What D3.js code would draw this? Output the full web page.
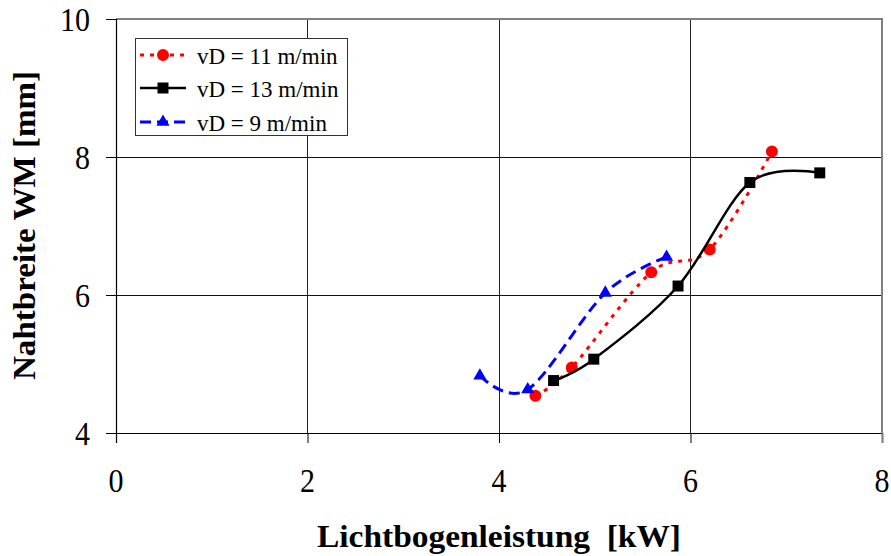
<!DOCTYPE html>
<html>
<head>
<meta charset="utf-8">
<script src="https://cdn.jsdelivr.net/npm/d3@7"></script>
<style>
  html, body { margin: 0; padding: 0; background: #fff; }
  svg { display: block; }
</style>
</head>
<body>
<div id="chart"></div>
<script>
// ---- data ----
const xTicks = [0, 2, 4, 6, 8];
const yTicks = [4, 6, 8, 10];
const seriesNames = ["vD = 11 m/min", "vD = 13 m/min", "vD = 9 m/min"];
const red11X = [4.38, 4.76, 5.59, 6.20, 6.85];
const red11Y = [4.54, 4.95, 6.33, 6.66, 8.08];
const black13X = [4.57, 4.99, 5.87, 6.62, 7.35];
const black13Y = [4.76, 5.07, 6.13, 7.63, 7.77];
const blue9X = [3.80, 4.30, 5.11, 5.75];
const blue9Y = [4.83, 4.63, 6.03, 6.55];
const xLabel = "Lichtbogenleistung  [kW]";
const yLabel = "Nahtbreite WM [mm]";

// ---- layout ----
const W = 891, H = 556;
const FONT = "'Liberation Serif', 'Times New Roman', Times, 'DejaVu Serif', serif";
const m = { left: 116, right: 891 - 882, top: 19, bottom: 556 - 433 };
const x = d3.scaleLinear().domain([0, 8]).range([m.left, W - m.right]);
const y = d3.scaleLinear().domain([4, 10]).range([H - m.bottom, m.top]);

const svg = d3.select("#chart").append("svg").attr("width", W).attr("height", H)
  .style("font-family", FONT);

// gridlines
const grid = svg.append("g");
grid.selectAll("line.gx").data(xTicks.filter(d => d > 0 && d < 8)).join("line")
  .attr("x1", d => x(d)).attr("x2", d => x(d)).attr("y1", y(10)).attr("y2", y(4))
  .attr("stroke", "#222").attr("stroke-width", 1).attr("shape-rendering", "crispEdges");
grid.selectAll("line.gy").data(yTicks.filter(d => d > 4 && d < 10)).join("line")
  .attr("x1", x(0)).attr("x2", x(8)).attr("y1", d => y(d)).attr("y2", d => y(d))
  .attr("stroke", "#111").attr("stroke-width", 1).attr("shape-rendering", "crispEdges");

// plot border (top & right gray)
svg.append("path")
  .attr("d", `M${x(0)},${y(10)} H${x(8)} V${y(4)}`)
  .attr("fill", "none").attr("stroke", "#808080").attr("stroke-width", 2);

// axes
const xAxis = svg.append("g").attr("transform", `translate(0,${y(4)})`)
  .call(d3.axisBottom(x).tickValues(xTicks).tickSize(10).tickFormat(""));
const yAxis = svg.append("g").attr("transform", `translate(${x(0)},0)`)
  .call(d3.axisLeft(y).tickValues(yTicks).tickSize(10).tickFormat(""));
[xAxis, yAxis].forEach(a => {
  a.select(".domain").attr("stroke", "#000").attr("stroke-width", 1.2);
  a.selectAll(".tick line").attr("stroke", "#000").attr("stroke-width", 1);
});
xAxis.select(".tick:last-of-type line").attr("stroke", "#808080").attr("stroke-width", 2);

// tick labels (tall narrow serif look)
const SY = 1.13;
svg.append("g").selectAll("text").data(xTicks).join("text")
  .attr("transform", d => `translate(${x(d)},492) scale(1,${SY})`)
  .attr("text-anchor", "middle").attr("font-size", 30).attr("fill", "#000")
  .attr("font-family", FONT)
  .text(d => d);
svg.append("g").selectAll("text").data(yTicks).join("text")
  .attr("transform", d => `translate(90,${y(d) + 11.5}) scale(1,${SY})`)
  .attr("text-anchor", "end").attr("font-size", 30).attr("fill", "#000")
  .attr("font-family", FONT)
  .text(d => d);

// axis titles
svg.append("text")
  .attr("x", 499).attr("y", 547).attr("text-anchor", "middle")
  .attr("font-size", 32).attr("font-weight", "bold").attr("font-family", FONT)
  .attr("textLength", 364).attr("lengthAdjust", "spacingAndGlyphs")
  .attr("xml:space", "preserve").style("white-space", "pre")
  .text(xLabel);
svg.append("text")
  .attr("transform", "translate(35,225.5) rotate(-90)")
  .attr("text-anchor", "middle")
  .attr("font-size", 31).attr("font-weight", "bold").attr("font-family", FONT)
  .attr("textLength", 309).attr("lengthAdjust", "spacingAndGlyphs")
  .text(yLabel);

// series
const series = [
  { name: seriesNames[0], xs: red11X, ys: red11Y, color: "#ff0000", dash: "4,6", width: 3, marker: "circle" },
  { name: seriesNames[1], xs: black13X, ys: black13Y, color: "#000000", dash: null, width: 2.5, marker: "square" },
  { name: seriesNames[2], xs: blue9X, ys: blue9Y, color: "#0000ff", dash: "11,6", width: 3, marker: "triangle" }
];

const line = d3.line().x(d => x(d[0])).y(d => y(d[1])).curve(d3.curveCardinal.tension(0));
const symbolFor = t => t === "circle" ? d3.symbol(d3.symbolCircle, 113)
  : t === "square" ? d3.symbol(d3.symbolSquare, 121)
  : d3.symbol(d3.symbolTriangle, 75);

series.forEach(s => {
  const pts = s.xs.map((v, i) => [v, s.ys[i]]);
  const g = svg.append("g");
  g.append("path").datum(pts).attr("d", line)
    .attr("fill", "none").attr("stroke", s.color).attr("stroke-width", s.width)
    .attr("stroke-dasharray", s.dash);
  g.selectAll("path.mk").data(pts).join("path").attr("class", "mk")
    .attr("d", symbolFor(s.marker)())
    .attr("transform", d => `translate(${x(d[0])},${y(d[1])})`)
    .attr("fill", s.color);
});

// legend
const lg = svg.append("g");
lg.append("rect").attr("x", 135.5).attr("y", 38.5).attr("width", 212).attr("height", 97)
  .attr("fill", "#fff").attr("stroke", "#333").attr("stroke-width", 1);
const rowY = [55, 88, 122];
series.forEach((s, i) => {
  const ry = rowY[i];
  lg.append("line").attr("x1", 140).attr("x2", 186).attr("y1", ry).attr("y2", ry)
    .attr("stroke", s.color).attr("stroke-width", s.width).attr("stroke-dasharray", s.dash);
  lg.append("path").attr("d", symbolFor(s.marker)())
    .attr("transform", `translate(163,${ry})`).attr("fill", s.color);
  lg.append("text").attr("x", 197).attr("y", ry + 9).attr("font-family", FONT)
    .attr("font-size", 23).attr("fill", "#000").text(s.name);
});
</script>
</body>
</html>
